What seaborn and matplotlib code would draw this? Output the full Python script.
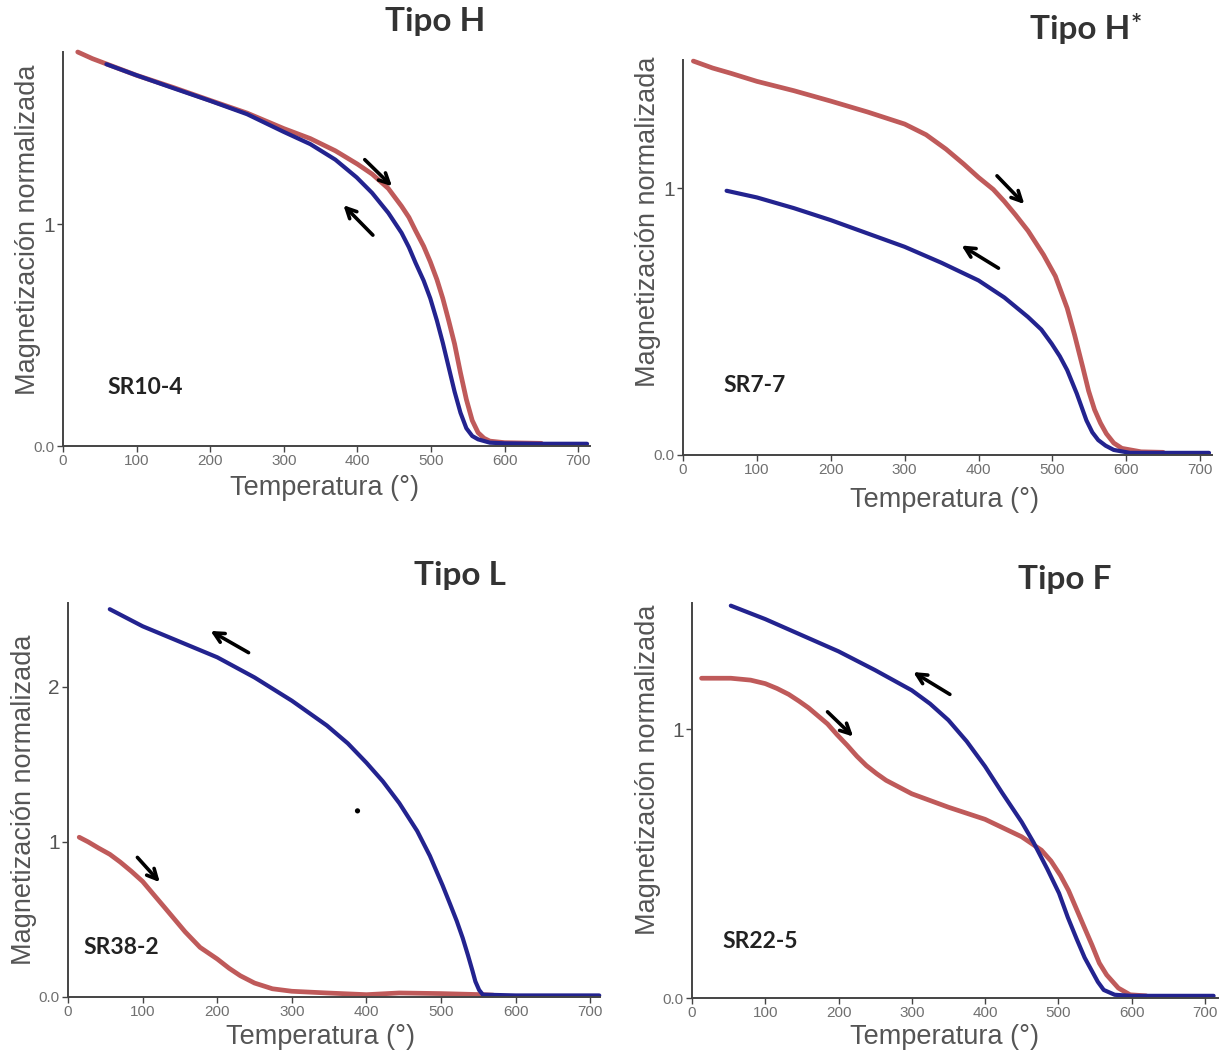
import numpy as np
import pandas as pd
import matplotlib
matplotlib.use("Agg")
import matplotlib.pyplot as plt
import seaborn as sns

sns.set_theme(style="white")
plt.rcParams['font.family'] = ['Liberation Sans', 'DejaVu Sans']

# ---------------- data ----------------
# Tipo H  (SR10-4)
h_red_T = [20, 40, 60, 100, 150, 200, 250, 300, 336, 370, 400, 420, 442, 460, 470, 479, 490, 499,
           508, 516, 524, 532, 540, 548, 556, 564, 572, 580, 600, 650]
h_red_M = [1.775, 1.745, 1.72, 1.67, 1.615, 1.557, 1.50, 1.43, 1.385, 1.33, 1.27, 1.225, 1.16, 1.08,
           1.03, 0.97, 0.90, 0.83, 0.75, 0.665, 0.565, 0.46, 0.33, 0.21, 0.115, 0.06, 0.035, 0.022,
           0.015, 0.012]
h_blue_T = [59, 100, 150, 200, 250, 300, 336, 370, 399, 420, 442, 460, 470, 479, 490, 499, 508,
            516, 524, 532, 540, 548, 556, 564, 580, 600, 650, 700, 712]
h_blue_M = [1.72, 1.67, 1.612, 1.555, 1.495, 1.415, 1.36, 1.29, 1.21, 1.14, 1.05, 0.96, 0.895, 0.825,
            0.745, 0.665, 0.565, 0.465, 0.355, 0.245, 0.15, 0.08, 0.045, 0.03, 0.015, 0.012, 0.01,
            0.01, 0.01]

# Tipo H* (SR7-7)
hs_red_T = [14, 40, 65, 100, 150, 200, 250, 300, 329, 356, 380, 400, 420, 435, 450, 467, 488,
            504, 520, 530, 541, 549, 557, 565, 573, 583, 594, 620, 650]
hs_red_M = [1.476, 1.45, 1.43, 1.40, 1.365, 1.326, 1.285, 1.24, 1.20, 1.146, 1.09, 1.04, 0.995,
            0.95, 0.90, 0.84, 0.75, 0.67, 0.55, 0.45, 0.33, 0.24, 0.17, 0.12, 0.08, 0.045, 0.025,
            0.012, 0.01]
hs_blue_T = [59, 100, 150, 200, 250, 300, 350, 400, 435, 467, 485, 499, 510, 520, 533, 546, 554,
             562, 572, 583, 605, 650, 700, 712]
hs_blue_M = [0.99, 0.965, 0.925, 0.88, 0.83, 0.78, 0.72, 0.654, 0.59, 0.517, 0.47, 0.417, 0.37,
             0.318, 0.23, 0.13, 0.085, 0.056, 0.035, 0.019, 0.008, 0.008, 0.008, 0.008]

# Tipo L (SR38-2)
l_red_T = [15, 27, 41, 56, 70, 85, 100, 114, 129, 143, 157, 177, 200, 216, 231, 250, 274, 300,
           347, 400, 444, 500, 556, 570]
l_red_M = [1.03, 1.0, 0.96, 0.92, 0.87, 0.81, 0.745, 0.665, 0.58, 0.50, 0.42, 0.32, 0.245, 0.185,
           0.137, 0.09, 0.053, 0.037, 0.026, 0.015, 0.026, 0.022, 0.015, 0.012]
l_blue_T = [56, 100, 150, 200, 250, 300, 347, 375, 400, 422, 444, 468, 485, 502, 512, 521, 529,
            536, 542, 546, 551, 556, 600, 650, 712]
l_blue_M = [2.50, 2.39, 2.29, 2.19, 2.06, 1.91, 1.75, 1.635, 1.51, 1.39, 1.25, 1.07, 0.91, 0.72,
            0.60, 0.49, 0.38, 0.27, 0.17, 0.10, 0.045, 0.015, 0.01, 0.01, 0.01]
l_stray_T = [388]
l_stray_M = [1.2]

# Tipo F (SR22-5)
f_red_T = [13, 53, 80, 100, 116, 132, 146, 159, 172, 185, 198, 212, 225, 238, 252, 265, 300, 350,
           400, 450, 477, 490, 503, 514, 525, 536, 546, 556, 566, 582, 598, 620]
f_red_M = [1.19, 1.19, 1.183, 1.17, 1.152, 1.13, 1.105, 1.08, 1.05, 1.02, 0.98, 0.94, 0.90, 0.865,
           0.835, 0.81, 0.76, 0.71, 0.665, 0.60, 0.55, 0.51, 0.456, 0.40, 0.33, 0.26, 0.197, 0.13,
           0.086, 0.037, 0.012, 0.008]
f_blue_T = [53, 100, 150, 200, 250, 300, 325, 350, 375, 400, 423, 450, 466, 485, 501, 513, 525,
            536, 546, 554, 562, 577, 600, 650, 712]
f_blue_M = [1.46, 1.41, 1.35, 1.29, 1.22, 1.145, 1.095, 1.034, 0.955, 0.862, 0.765, 0.655, 0.58,
            0.48, 0.39, 0.30, 0.22, 0.15, 0.10, 0.06, 0.03, 0.012, 0.008, 0.008, 0.008]

titles = ["Tipo H", "Tipo H", "Tipo L", "Tipo F"]
title_marks = ["", "*", "", ""]
samples = ["SR10-4", "SR7-7", "SR38-2", "SR22-5"]
x_ticks = [0, 100, 200, 300, 400, 500, 600, 700]
y_ticks = [[0, 1], [0, 1], [0, 1, 2], [0, 1]]
y_ticklabels = [["0.0", "1"], ["0.0", "1"], ["0.0", "1", "2"], ["0.0", "1"]]

RED = "#bf5a5a"
BLUE = "#23238f"

W, H = 1228, 1057
fig = plt.figure(figsize=(W / 100, H / 100), dpi=100)


def fx(px):
    return px / W


def fy(py):
    return 1 - py / H


# layout: (left px, right px, top px, bottom px, xmax, ymax)
layout = [
    (63, 590, 52, 446, 716, 1.775),
    (683, 1212, 60, 455, 716, 1.48),
    (68, 600, 603, 997, 713, 2.54),
    (692, 1218, 603, 998, 718, 1.47),
]
title_pos = [(435, 22), (1080, 30), (460, 575), (1065, 580)]
ylabel_pos = [(28, 230), (648, 222), (24, 800), (648, 770)]
xlabel_pos = [(325, 488), (945, 500), (320, 1037), (945, 1037)]
sample_pos = [(107, 387), (723, 385), (83, 947), (722, 942)]

# arrows: (tail T, tail M, head T, head M)
arrows = [
    [(410, 1.29, 447, 1.17), (421, 0.95, 381, 1.085)],
    [(425, 1.046, 462, 0.94), (427, 0.70, 377, 0.785)],
    [(242, 2.22, 191, 2.36), (93, 0.90, 123, 0.74)],
    [(352, 1.13, 302, 1.213), (185, 1.065, 220, 0.973)],
]

series = [
    (h_red_T, h_red_M, h_blue_T, h_blue_M),
    (hs_red_T, hs_red_M, hs_blue_T, hs_blue_M),
    (l_red_T, l_red_M, l_blue_T, l_blue_M),
    (f_red_T, f_red_M, f_blue_T, f_blue_M),
]

for i in range(4):
    l, r, t, b, xmax, ymax = layout[i]
    ax = fig.add_axes([fx(l), fy(b), (r - l) / W, (b - t) / H])
    rT, rM, bT, bM = series[i]
    df_r = pd.DataFrame({"T": rT, "M": rM})
    df_b = pd.DataFrame({"T": bT, "M": bM})
    sns.lineplot(data=df_r, x="T", y="M", ax=ax, color=RED, lw=3.4, clip_on=False,
                 solid_joinstyle="round", solid_capstyle="round")
    sns.lineplot(data=df_b, x="T", y="M", ax=ax, color=BLUE, lw=3.0, clip_on=False,
                 solid_joinstyle="round", solid_capstyle="round")
    if i == 2:
        sns.scatterplot(x=l_stray_T, y=l_stray_M, ax=ax, color="black", s=14, edgecolor="none")
    ax.set_xlim(0, xmax)
    ax.set_ylim(0, ymax)
    ax.set_xlabel("")
    ax.set_ylabel("")
    ax.set_xticks(x_ticks)
    ax.set_xticklabels([str(v) for v in x_ticks], fontsize=11, color="#707070")
    ax.set_yticks(y_ticks[i])
    ax.set_yticklabels(y_ticklabels[i], color="#555555")
    for lab in ax.get_yticklabels():
        if lab.get_text() == "0.0":
            lab.set_fontsize(11)
            lab.set_color("#707070")
        else:
            lab.set_fontsize(15)
    ax.tick_params(axis="both", direction="out", length=4, width=1, color="#444444",
                   pad=2, left=True, bottom=True)
    for s in ["top", "right"]:
        ax.spines[s].set_visible(False)
    for s in ["left", "bottom"]:
        ax.spines[s].set_color("#444444")
        ax.spines[s].set_linewidth(1.4)
    ax.set_facecolor("white")
    ax.grid(False)

    for (t0, m0, t1, m1) in arrows[i]:
        ax.annotate("", xy=(t1, m1), xytext=(t0, m0),
                    arrowprops=dict(arrowstyle="->", lw=2.6, color="black",
                                    mutation_scale=18, shrinkA=0, shrinkB=0))

    tx, ty = title_pos[i]
    tt = fig.text(fx(tx), fy(ty), titles[i], ha="center", va="center", fontsize=24,
                  fontweight="bold", color="#333333", family=["Lato", "DejaVu Sans"])
    if title_marks[i]:
        fig.canvas.draw()
        bb = tt.get_window_extent()
        fig.text(bb.x1 / W + 0.0005, fy(25), title_marks[i], ha="left", va="center",
                 fontsize=19, fontweight="bold", color="#333333", family=["Lato", "DejaVu Sans"])
    yx, yy = ylabel_pos[i]
    fig.text(fx(yx), fy(yy), "Magnetización normalizada", rotation=90, ha="center",
             va="center", fontsize=19.5, color="#555555")
    xx, xy = xlabel_pos[i]
    fig.text(fx(xx), fy(xy), "Temperatura (°)", ha="center", va="center", fontsize=19.5,
             color="#555555")
    sx, sy = sample_pos[i]
    fig.text(fx(sx), fy(sy), samples[i], ha="left", va="center", fontsize=16.5,
             fontweight="bold", color="#222222", family=["Lato", "DejaVu Sans"])

fig.savefig("out.png", dpi=100, facecolor="white")
